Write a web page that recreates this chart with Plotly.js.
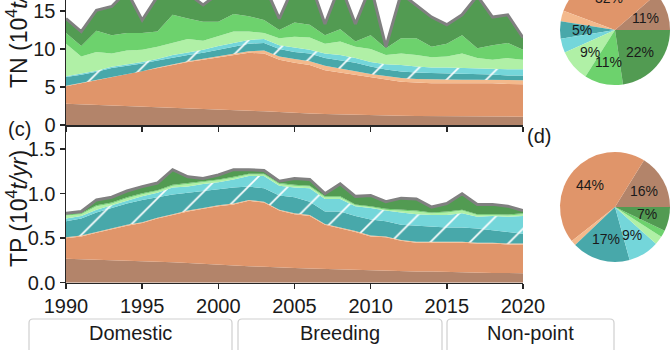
<!DOCTYPE html>
<html><head><meta charset="utf-8">
<script src="https://cdn.plot.ly/plotly-3.0.1.min.js"></script>
<style>
html,body{margin:0;padding:0;overflow:hidden;background:#fff;width:670px;height:350px;}
#chart{position:absolute;left:0;top:-94px;width:670px;height:444px;}
</style></head><body><div id="chart"></div>
<script>
// ---------------- data ----------------
const years = [1990,1991,1992,1993,1994,1995,1996,1997,1998,1999,2000,2001,2002,2003,2004,2005,2006,2007,2008,2009,2010,2011,2012,2013,2014,2015,2016,2017,2018,2019,2020];

// TN (10^4 t/yr), one array per source, bottom to top of the stack
const tnDomesticA = [2.8,2.73,2.66,2.59,2.52,2.45,2.38,2.3,2.22,2.15,2.07,1.98,1.9,1.8,1.7,1.57,1.5,1.44,1.38,1.32,1.26,1.24,1.22,1.2,1.18,1.17,1.16,1.15,1.13,1.12,1.1];
const tnDomesticB = [2.3,2.77,3.24,3.71,4.08,4.55,5.12,5.6,6.08,6.45,6.83,7.22,7.6,7.6,6.9,6.63,6.4,5.76,5.52,5.28,5.04,4.76,4.48,4.4,4.32,4.33,4.34,4.35,4.37,4.28,4.25];
const tnDomesticC = [0.05,0.05,0.05,0.05,0.07,0.08,0.08,0.1,0.1,0.12,0.15,0.18,0.2,0.4,0.4,0.5,0.5,0.6,0.5,0.45,0.4,0.45,0.5,0.45,0.5,0.48,0.45,0.45,0.45,0.5,0.55];
const tnBreedingA = [1.15,1.05,1.05,1.15,1.13,1.02,0.92,0.9,0.8,0.78,0.85,0.92,1.0,1.0,1.0,0.9,1.0,1.0,1.1,1.15,1.0,0.85,0.85,0.85,0.85,0.82,0.8,0.75,0.7,0.6,0.6];
const tnBreedingB = [0.1,0.15,0.15,0.15,0.15,0.2,0.2,0.3,0.35,0.4,0.5,0.5,0.5,0.5,0.5,0.6,0.5,0.6,0.7,0.6,0.6,0.7,0.85,0.8,0.7,0.75,0.75,0.75,0.7,0.85,0.85];
const tnNonpointA = [4.3,2.25,2.45,1.75,1.85,1.6,1.6,1.6,1.75,1.2,1.3,1.5,1.1,0.8,0.9,1.4,1.6,1.3,1.8,1.5,1.7,1.2,1.5,1.5,1.35,1.45,1.9,1.35,1.25,1.45,1.25];
const tnNonpointB = [1.4,1.4,2.8,2.4,2.3,2.2,2.0,3.7,2.7,2.5,1.9,2.3,2.0,1.7,1.1,1.9,1.7,1.1,1.6,0.7,1.8,0.9,2.0,2.2,1.4,1.7,2.4,1.3,1.9,2.0,1.3];
const tnNonpointC = [1.9,1.9,2.7,3.8,5.5,1.7,4.6,3.0,3.3,2.2,3.7,3.4,3.7,4.7,1.5,5.0,5.8,1.5,5.9,2.3,6.5,0.2,5.9,4.4,3.9,2.5,2.7,6.9,3.7,3.7,1.6];

// TP (10^4 t/yr)
const tpDomesticA = [0.27,0.265,0.26,0.255,0.25,0.24,0.235,0.23,0.22,0.21,0.20,0.19,0.185,0.18,0.17,0.165,0.16,0.155,0.15,0.14,0.135,0.13,0.13,0.125,0.125,0.12,0.12,0.115,0.11,0.11,0.105];
const tpDomesticB = [0.23,0.255,0.30,0.345,0.39,0.43,0.485,0.53,0.58,0.62,0.66,0.69,0.735,0.72,0.64,0.605,0.59,0.495,0.46,0.43,0.385,0.38,0.34,0.325,0.325,0.33,0.33,0.325,0.33,0.32,0.325];
const tpDomesticC = [0.01,0.01,0.01,0.01,0.01,0.01,0.01,0.01,0.01,0.01,0.01,0.01,0.01,0.01,0.01,0.01,0.01,0.01,0.01,0.01,0.01,0.01,0.01,0.01,0.01,0.01,0.01,0.01,0.01,0.01,0.01];
const tpBreedingA = [0.18,0.19,0.22,0.23,0.24,0.25,0.23,0.22,0.20,0.19,0.18,0.18,0.15,0.15,0.16,0.18,0.15,0.14,0.18,0.17,0.18,0.17,0.17,0.18,0.17,0.16,0.16,0.16,0.14,0.13,0.11];
const tpBreedingB = [0.03,0.03,0.03,0.03,0.03,0.04,0.05,0.08,0.07,0.08,0.08,0.09,0.12,0.14,0.11,0.11,0.15,0.14,0.14,0.11,0.13,0.12,0.14,0.13,0.13,0.14,0.16,0.13,0.16,0.17,0.20];
const tpNonpointA = [0.035,0.02,0.04,0.02,0.03,0.025,0.02,0.02,0.03,0.02,0.02,0.02,0.015,0.015,0.02,0.02,0.02,0.02,0.02,0.01,0.01,0.01,0.02,0.03,0.02,0.03,0.03,0.02,0.01,0.015,0.02];
const tpNonpointB = [0.01,0.01,0.01,0.01,0.01,0.01,0.01,0.01,0.01,0.01,0.01,0.01,0.01,0.01,0.01,0.01,0.01,0.01,0.01,0.01,0.01,0.01,0.01,0.01,0.01,0.01,0.01,0.01,0.01,0.01,0.01];
const tpNonpointC = [0.015,0.02,0.06,0.06,0.07,0.075,0.08,0.17,0.07,0.03,0.05,0.08,0.045,0.035,0.02,0.07,0.07,0.03,0.14,0.09,0.12,0.08,0.13,0.13,0.06,0.09,0.18,0.11,0.11,0.095,0.03];

// Pie shares (%) in the same source order
const pieTN = [11,32,3,5,4,9,11,22];
const pieTP = [16,44,1.5,17,9,2.5,2,7];

const legendGroups = ['Domestic','Breeding','Non-point'];
const yTicksTN = [0,5,10,15];
const yTicksTP = [0,0.5,1.0,1.5];
const xTicks = [1990,1995,2000,2005,2010,2015,2020];

// ---------------- styling ----------------
const colors = ['#b3846a','#e0956a','#f4b98c','#48a8aa','#74d6da','#b0f0a6','#6dd26d','#529b52'];
const hatched = [false,false,false,true,true,false,false,false];
const FONT = 'Liberation Sans, Arial, sans-serif';
const W = 670, H = 444, OFF = 94;
const px = v => v / W;
const py = v => 1 - (v + OFF) / H;   // viewport y -> paper y

const tnSeries = [tnDomesticA,tnDomesticB,tnDomesticC,tnBreedingA,tnBreedingB,tnNonpointA,tnNonpointB,tnNonpointC];
const tpSeries = [tpDomesticA,tpDomesticB,tpDomesticC,tpBreedingA,tpBreedingB,tpNonpointA,tpNonpointB,tpNonpointC];

function stackTraces(series, xa, ya, group) {
  return series.map((vals, i) => {
    const top = i === series.length - 1;
    const t = {
      type: 'scatter', mode: 'lines', x: years, y: vals, xaxis: xa, yaxis: ya,
      stackgroup: group, fillcolor: colors[i],
      line: top ? {color: '#808080', width: 3} : {width: 0, color: colors[i]},
      hoverinfo: 'skip'
    };
    if (hatched[i]) {
      t.fillpattern = {shape: '/', fgcolor: '#ffffff', bgcolor: colors[i], size: 28, solidity: 0.06, fillmode: 'replace'};
    }
    return t;
  });
}

// plot areas (viewport px)
const X0 = 66, X1 = 523;
const TN_BOTTOM = 125, TP_TOP = 131.4, TP_BOTTOM = 282.7;
const tnPxPerUnit = 7.6;

const axisCommon = {
  showgrid: false, zeroline: false, showline: true, linecolor: '#262626', linewidth: 1.5,
  ticks: 'outside', ticklen: 5, tickwidth: 1.5, tickcolor: '#262626',
  tickfont: {family: FONT, size: 20, color: '#1a1a1a'}
};

const layout = {
  width: W, height: H, margin: {l: 0, r: 0, t: 0, b: 0},
  paper_bgcolor: '#ffffff', plot_bgcolor: 'rgba(0,0,0,0)', showlegend: false,
  xaxis: Object.assign({}, axisCommon, {domain: [px(X0), px(X1)], anchor: 'y', range: [1990, 2020], tickvals: xTicks, showticklabels: false}),
  yaxis: Object.assign({}, axisCommon, {domain: [py(TN_BOTTOM), 1], anchor: 'x', range: [0, (TN_BOTTOM + OFF) / tnPxPerUnit], tickvals: yTicksTN}),
  xaxis2: Object.assign({}, axisCommon, {domain: [px(X0), px(X1)], anchor: 'y2', range: [1990, 2020], tickvals: xTicks}),
  yaxis2: Object.assign({}, axisCommon, {domain: [py(TP_BOTTOM), py(TP_TOP)], anchor: 'x2', range: [0, 1.7], tickvals: yTicksTP, tickformat: '.1f'}),
  annotations: [], shapes: []
};

// axis titles
layout.annotations.push({xref: 'paper', yref: 'paper', x: px(17), y: py(29), text: 'TN (10<sup>4</sup><i>t/yr</i>)', textangle: -90, showarrow: false, xanchor: 'center', yanchor: 'middle', font: {family: FONT, size: 23, color: '#1a1a1a'}});
layout.annotations.push({xref: 'paper', yref: 'paper', x: px(17), y: py(209), text: 'TP (10<sup>4</sup><i>t/yr</i>)', textangle: -90, showarrow: false, xanchor: 'center', yanchor: 'middle', font: {family: FONT, size: 23, color: '#1a1a1a'}});
// panel letters
layout.annotations.push({xref: 'paper', yref: 'paper', x: px(19), y: py(129), text: '(c)', showarrow: false, xanchor: 'center', yanchor: 'middle', font: {family: FONT, size: 20, color: '#1a1a1a'}});
layout.annotations.push({xref: 'paper', yref: 'paper', x: px(539), y: py(136), text: '(d)', showarrow: false, xanchor: 'center', yanchor: 'middle', font: {family: FONT, size: 20, color: '#1a1a1a'}});

// pies: first slice starts at 3 o'clock and slices run counterclockwise
const pies = [
  {vals: pieTN, cx: 615, cy: 30, r: 55},
  {vals: pieTP, cx: 615, cy: 207, r: 55}
];
const pieTraces = pies.map(p => {
  const sum = p.vals.reduce((a, b) => a + b, 0);
  return {
    type: 'pie', values: p.vals, sort: false, direction: 'counterclockwise',
    rotation: 90 - 360 * p.vals[0] / sum,
    marker: {colors: colors, line: {width: 0}}, textinfo: 'none', hoverinfo: 'skip',
    domain: {x: [px(p.cx - p.r), Math.min(1, px(p.cx + p.r))], y: [py(p.cy + p.r), py(p.cy - p.r)]}
  };
});
pies.forEach(p => {
  const sum = p.vals.reduce((a, b) => a + b, 0);
  let cum = 0;
  p.vals.forEach(v => {
    const mid = (cum + v / 2) / sum * 2 * Math.PI;
    cum += v;
    if (v < 5) return;
    const lx = p.cx + 0.6 * p.r * Math.cos(mid);
    const ly = p.cy - 0.6 * p.r * Math.sin(mid);
    layout.annotations.push({xref: 'paper', yref: 'paper', x: px(lx), y: py(ly), text: Math.round(v) + '%', showarrow: false, xanchor: 'center', yanchor: 'middle', font: {family: FONT, size: 14, color: '#1a1a1a'}});
  });
});

// legend group header boxes
const boxes = [[29, 232], [238, 442], [447, 614]];
boxes.forEach((b, i) => {
  const x0 = px(b[0]), x1 = px(b[1]), yt = py(319), yb = py(360), rx = px(4), ry = 4 / H;
  layout.shapes.push({type: 'path', xref: 'paper', yref: 'paper',
    path: `M${x0},${yb} L${x0},${yt - ry} Q${x0},${yt} ${x0 + rx},${yt} L${x1 - rx},${yt} Q${x1},${yt} ${x1},${yt - ry} L${x1},${yb}`,
    line: {color: '#cfcfcf', width: 1.2}});
  layout.annotations.push({xref: 'paper', yref: 'paper', x: (x0 + x1) / 2, y: py(333), text: legendGroups[i], showarrow: false, xanchor: 'center', yanchor: 'middle', font: {family: FONT, size: 20, color: '#1a1a1a'}});
});

const data = [].concat(stackTraces(tnSeries, 'x', 'y', 'tn'), stackTraces(tpSeries, 'x2', 'y2', 'tp'), pieTraces);
Plotly.newPlot('chart', data, layout, {staticPlot: true, displayModeBar: false});
</script></body></html>
